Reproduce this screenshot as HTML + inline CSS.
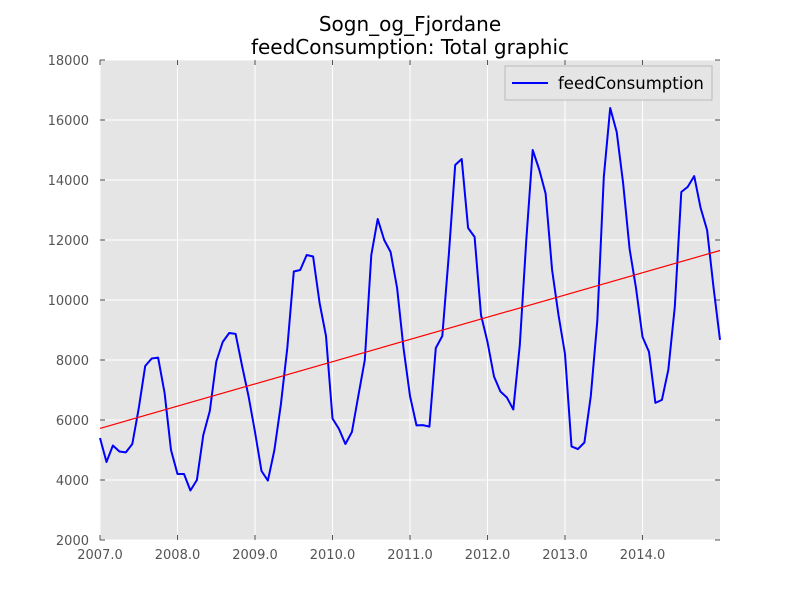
<!DOCTYPE html>
<html><head><meta charset="utf-8"><style>
body{margin:0;background:#fff;}
text{font-family:"DejaVu Sans","Liberation Sans",sans-serif;}
</style></head><body>
<svg id="chart" width="800" height="600" xmlns="http://www.w3.org/2000/svg">
<rect width="800" height="600" fill="#fff"/>
<text x="410" y="31" text-anchor="middle" font-size="20">Sogn_og_Fjordane</text>
<text x="410" y="54" text-anchor="middle" font-size="20">feedConsumption: Total graphic</text>
<rect x="100" y="60" width="620" height="480" fill="#e5e5e5"/>
<g id="grid"></g>
<g id="ticks"></g>
<g id="series"></g>
<g>
<rect x="505" y="66" width="207" height="34" fill="#e5e5e5" stroke="#bbb" stroke-width="1"/>
<line x1="512" y1="83" x2="548" y2="83" stroke="#0000ff" stroke-width="2"/>
<text x="558" y="89" font-size="16.5">feedConsumption</text>
</g>
</svg>
<script>
const xTicks=[2007,2008,2009,2010,2011,2012,2013,2014];
const xTickLabels=["2007.0","2008.0","2009.0","2010.0","2011.0","2012.0","2013.0","2014.0"];
const yTicks=[2000,4000,6000,8000,10000,12000,14000,16000,18000];
const startYear=2007;
const values=[
5400,4600,5150,4950,4920,5200,6400,7800,8050,8080,6900,5000,
4200,4200,3650,4000,5500,6300,7950,8600,8900,8870,7800,6800,
5600,4300,3980,5000,6500,8400,10950,11000,11500,11450,9900,8800,
6050,5700,5200,5600,6800,8000,11500,12700,12000,11600,10400,8400,
6800,5820,5830,5780,8400,8800,11500,14500,14700,12400,12100,9500,
8600,7450,6950,6750,6350,8500,12000,15000,14350,13550,11000,9500,
8200,5120,5030,5250,6800,9300,14100,16400,15600,13900,11700,10400,
8770,8270,6570,6670,7670,9770,13600,13770,14130,13070,12330,10430,8670];
const trendX=[2007,2015];
const trendY=[5720,11650];
const NS="http://www.w3.org/2000/svg";
const X0=2007,X1=2015,Y0=2000,Y1=18000;
function sx(v){return 100+(v-X0)/(X1-X0)*620;}
function sy(v){return 540-(v-Y0)/(Y1-Y0)*480;}
function mk(tag,attrs,parent){const e=document.createElementNS(NS,tag);for(const k in attrs)e.setAttribute(k,attrs[k]);parent.appendChild(e);return e;}
const grid=document.getElementById('grid'),ticks=document.getElementById('ticks'),series=document.getElementById('series');
xTicks.forEach((t,i)=>{const x=sx(t);
 const g=mk('line',{x1:x,x2:x,y1:60,y2:540,stroke:'#fff','stroke-width':1},grid);
 
 
 mk('line',{x1:x,x2:x,y1:540,y2:535,stroke:'#555'},ticks);
 mk('line',{x1:x,x2:x,y1:60,y2:65,stroke:'#555'},ticks);
 const l=mk('text',{x:x,y:559,'text-anchor':'middle','font-size':13,fill:'#555'},ticks);
 l.textContent=xTickLabels[i];
 
 
});
yTicks.forEach(t=>{const y=sy(t);
 const g=mk('line',{x1:100,x2:720,y1:y,y2:y,stroke:'#fff','stroke-width':1},grid);
 
 
 mk('line',{x1:100,x2:105,y1:y,y2:y,stroke:'#555'},ticks);
 mk('line',{x1:715,x2:720,y1:y,y2:y,stroke:'#555'},ticks);
 const l=mk('text',{x:89,y:y+5,'text-anchor':'end','font-size':13,fill:'#555'},ticks);
 l.textContent=String(t);
 
 
});
const pts=values.map((v,i)=>sx(startYear+i/12).toFixed(1)+','+sy(v).toFixed(1)).join(' ');
const pl=mk('polyline',{points:pts,fill:'none',stroke:'#0000ff','stroke-width':2,'stroke-linejoin':'round'},series);


const tl=mk('line',{x1:sx(trendX[0]),y1:sy(trendY[0]),x2:sx(trendX[1]),y2:sy(trendY[1]),stroke:'#ff0000','stroke-width':1.2},series);


</script>
</body></html>
